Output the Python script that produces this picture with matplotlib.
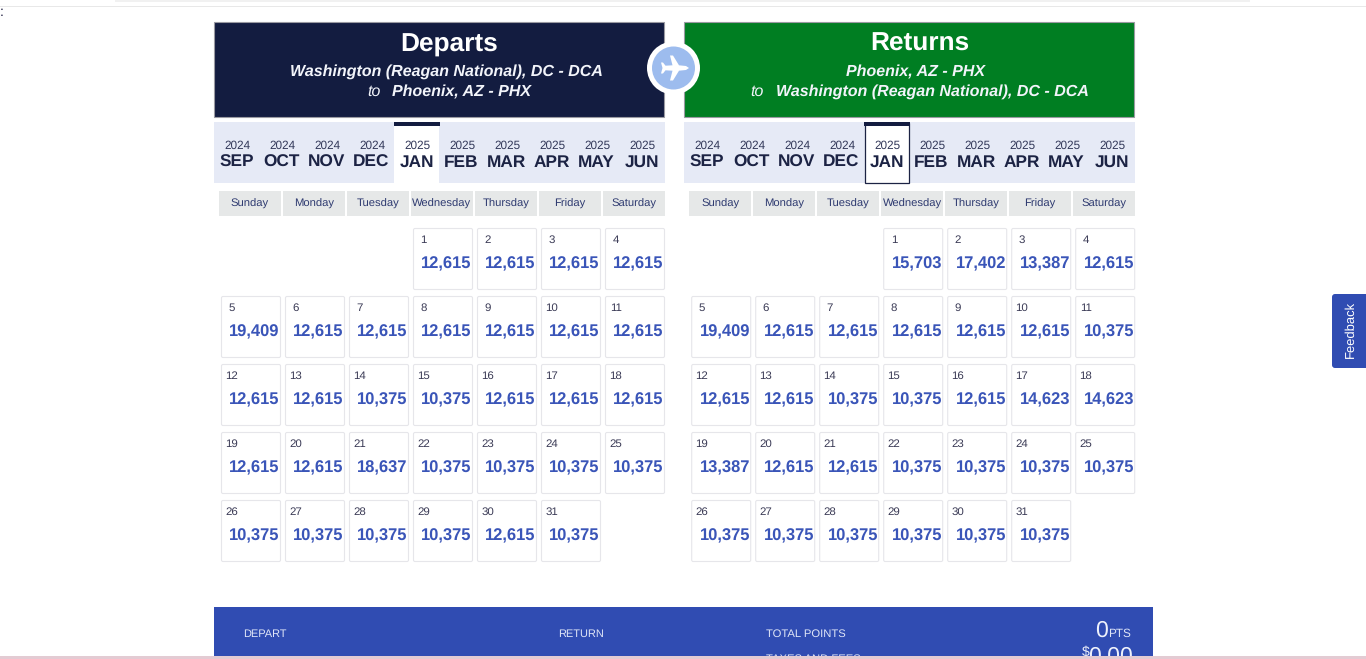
import matplotlib
matplotlib.use("Agg")
import matplotlib.pyplot as plt
from matplotlib.patches import Rectangle, Circle, FancyBboxPatch, Polygon

plt.rcParams['font.family'] = ['Liberation Sans', 'DejaVu Sans']
plt.rcParams['text.hinting'] = 'none'

YEARS = ["2024"] * 4 + ["2025"] * 6
MONTHS = ["SEP", "OCT", "NOV", "DEC", "JAN", "FEB", "MAR", "APR", "MAY", "JUN"]
WEEKDAYS = ["Sunday", "Monday", "Tuesday", "Wednesday", "Thursday", "Friday", "Saturday"]
SELECTED_MONTH = "JAN"
FIRST_WEEKDAY = 3

DEPART_POINTS = [12615, 12615, 12615, 12615,
                 19409, 12615, 12615, 12615, 12615, 12615, 12615,
                 12615, 12615, 10375, 10375, 12615, 12615, 12615,
                 12615, 12615, 18637, 10375, 10375, 10375, 10375,
                 10375, 10375, 10375, 10375, 12615, 10375]
RETURN_POINTS = [15703, 17402, 13387, 12615,
                 19409, 12615, 12615, 12615, 12615, 12615, 10375,
                 12615, 12615, 10375, 10375, 12615, 14623, 14623,
                 13387, 12615, 12615, 10375, 10375, 10375, 10375,
                 10375, 10375, 10375, 10375, 10375, 10375]

NAVY = "#131c40"
GREEN = "#007e22"
BLUE = "#304cb2"
TAB = "#e6eaf6"
DARK = "#1c2344"
PX = 0.72

fig = plt.figure(figsize=(13.66, 6.59), dpi=100, facecolor="white")
ax = fig.add_axes([0, 0, 1, 1])
ax.set_xlim(0, 1366)
ax.set_ylim(659, 0)
ax.axis("off")


def rect(x, y, w, h, fc, ec="none", lw=0, z=1):
    ax.add_patch(Rectangle((x, y), w, h, facecolor=fc, edgecolor=ec, linewidth=lw, zorder=z))


def text(x, y, s, px, color, ha="center", va="center", weight="normal", style="normal", z=5, **kw):
    return ax.text(x, y, s, fontsize=px * PX, color=color, ha=ha, va=va,
                   fontweight=weight, fontstyle=style, zorder=z, **kw)


def panel(x0, title, origin, dest, color, points, outlined, cell_dx, to_x, dest_x):
    w = 450
    rect(x0 + 0.3, 22.3, w, 94.5, color, "#9a9aa2", 0.8)
    text(x0 + 235.5, 44.5, title, 26.3, "white", weight="bold")
    text(x0 + 232, 72, origin, 16, "#f2f4fa", weight="bold", style="italic")
    text(to_x, 92, "to", 16, "#f2f4fa", style="italic")
    text(dest_x, 92, dest, 16, "#f2f4fa", ha="left", weight="bold", style="italic")

    rect(x0, 122, w + 0.5, 61, TAB)
    for i, (yr, mo) in enumerate(zip(YEARS, MONTHS)):
        tx = x0 + 45 * i
        if mo == SELECTED_MONTH:
            if outlined:
                rect(tx + 0.5, 123, 44.5, 59.5, "white", DARK, 0.9, z=2)
            else:
                rect(tx, 122, 45, 61, "white", z=2)
            rect(tx, 122, 45.5, 3.5, NAVY, z=3)
        text(tx + 23, 145.3, yr, 11.8, "#33395a")
        text(tx + 22.5, 162.5, mo, 17.3, DARK, weight="bold")

    for c, d in enumerate(WEEKDAYS):
        rect(x0 + 5 + 64 * c, 191, 62, 25, "#e6e8e8")
        text(x0 + 36 + cell_dx + 64 * c, 204, d, 11.3, "#2e3a70")

    grid_x = x0 + 7 + cell_dx
    for i, v in enumerate(points):
        pos = i + FIRST_WEEKDAY
        row, col = pos // 7, pos % 7
        cx, cy = grid_x + 64 * col, 228 + 68 * row
        ax.add_patch(FancyBboxPatch((cx + 0.5, cy + 0.5), 59, 61,
                                    boxstyle="round,pad=0,rounding_size=1.5",
                                    facecolor="white", edgecolor="#e6e6ea", linewidth=0.8, zorder=1))
        text(cx + 10.7, cy + 12, str(i + 1), 11.5, "#3a3a55")
        text(cx + 8.3, cy + 36.2, f"{v:,}", 16.5, "#3a55b8", ha="left", weight="bold")


panel(214, "Departs", "Washington (Reagan National), DC - DCA", "Phoenix, AZ - PHX", NAVY,
      DEPART_POINTS, False, 0, 373.5, 392)
panel(684, "Returns", "Phoenix, AZ - PHX", "Washington (Reagan National), DC - DCA", GREEN,
      RETURN_POINTS, True, 0.2, 757, 775.5)

# plane badge
ax.add_patch(Circle((673.5, 68), 26.5, facecolor="white", edgecolor="none", zorder=6))
ax.add_patch(Circle((673.5, 68), 21.5, facecolor="#9dbcee", edgecolor="none", zorder=7))
PLANE_TOP = [(689, 68), (686, 66), (679, 65.3), (673, 55.5), (670, 55.5), (672.5, 65.3),
             (665.5, 65.7), (663, 62.5), (661, 62.5), (662.5, 68)]
PLANE = PLANE_TOP + [(x, 136 - y) for x, y in PLANE_TOP[-2:0:-1]]
ax.add_patch(Polygon(PLANE, closed=True, facecolor="white", edgecolor="none", zorder=8))

# page chrome
rect(0, 6, 1366, 1, "#e8e8e8")
rect(115, 0, 1135, 1.5, "#f1f1f1")
text(2, 12.5, ":", 14, "#222244")

# summary bar
rect(214, 607, 939, 52, BLUE)
text(243.5, 633.7, "DEPART", 11, "#dfe5f7", ha="left")
text(558, 633.7, "RETURN", 11, "#dfe5f7", ha="left")
text(766.5, 633.7, "TOTAL POINTS", 11.2, "#dfe5f7", ha="left")
text(766.5, 659, "TAXES AND FEES", 11.2, "#dfe5f7", ha="left")
text(1108, 630.5, "0", 23, "#eef1fb", ha="right")
text(1131, 634, "PTS", 11.8, "#dfe5f7", ha="right")
text(1090, 652, "$", 14, "#eef1fb", ha="right")
text(1133, 657, "0.00", 23, "#eef1fb", ha="right")
rect(0, 656, 1366, 3, "#e3cbd3", z=9)

# feedback tab
ax.add_patch(FancyBboxPatch((1332, 294), 44, 74, boxstyle="round,pad=0,rounding_size=3",
                            facecolor=BLUE, edgecolor="none", zorder=3))
text(1350, 329, "Feedback", 13, "white", rotation=90)

fig.savefig("out.png", dpi=100, facecolor="white")
